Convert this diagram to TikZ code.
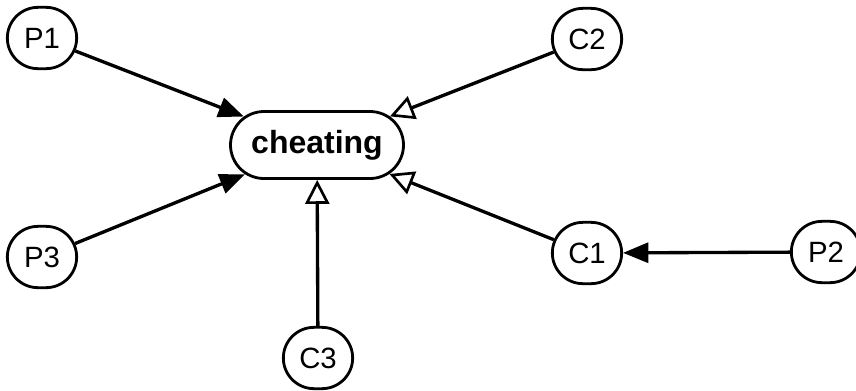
\documentclass[tikz,border=0pt]{standalone}
\usepackage{fontspec}
\setmainfont{Liberation Sans}
\usetikzlibrary{arrows.meta,shapes.misc}

\begin{document}
\begin{tikzpicture}[x=0.75pt,y=-0.75pt,
	var/.style={draw,line width=2.1pt,rounded rectangle,inner sep=0pt,
		minimum width=52pt,minimum height=46pt,font=\fontsize{22}{26}\selectfont},
	goal/.style={var,minimum width=129.75pt,minimum height=50.25pt,
		font=\fontsize{24}{28}\selectfont\bfseries},
	pa/.style={line width=2.5pt,-{Triangle[length=19pt,width=15pt]}},
	ca/.style={line width=2.5pt,-{Triangle[open,length=18pt,width=18pt,line width=2pt]}}]
			\useasboundingbox (0,0) rectangle (856,390);
			\node[goal](cheat) at (317,145){cheating};
			\node[var](P1) at (42,38){P1};
			\node[var](P2) at (826,252){P2};
			\node[var](P3) at (42,257){P3};
			\node[var](C1) at (587,253){C1};
			\node[var](C2) at (587,39){C2};
			\node[var](C3) at (318,358){C3};
			\draw[pa](P1)--(cheat);
			\draw[pa](P3)--(cheat);
			\draw[pa](P2)--(C1);
			\draw[ca](C2)--(cheat);
			\draw[ca](C1)--(cheat);
			\draw[ca](C3)--(cheat);
		\end{tikzpicture}
\end{document}
